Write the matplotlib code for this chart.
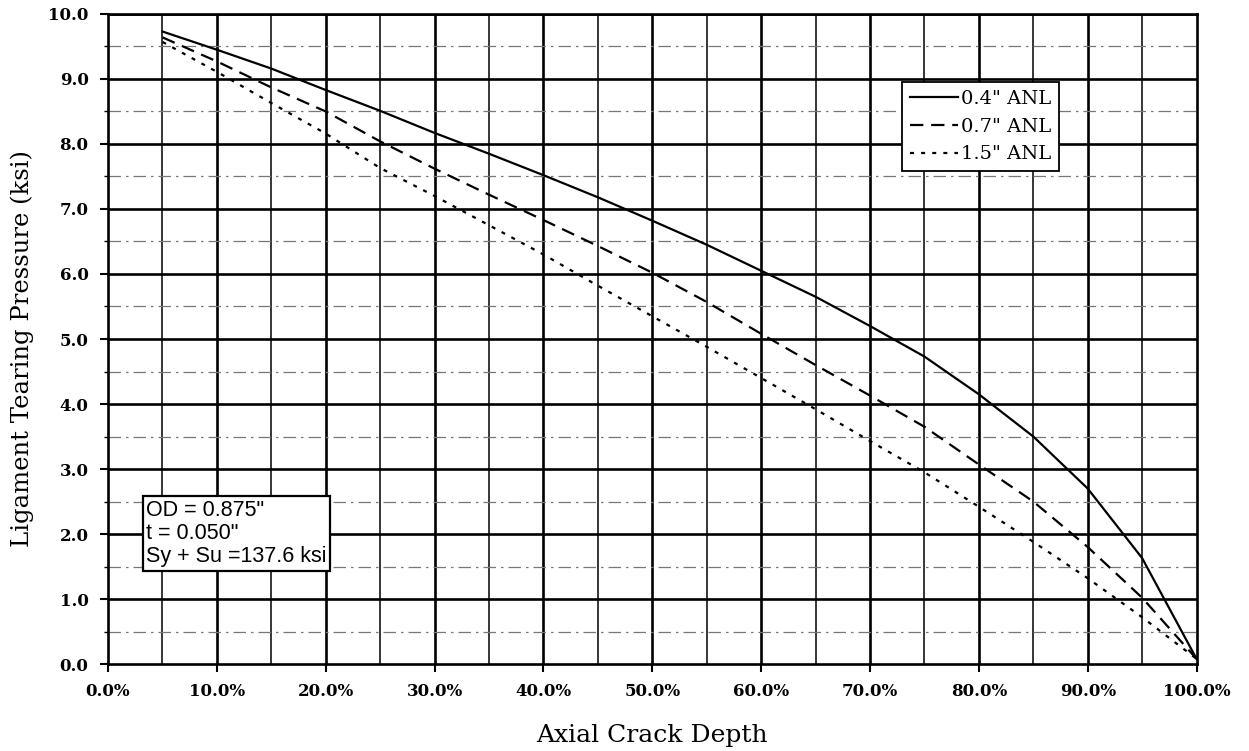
import numpy as np
import matplotlib.pyplot as plt
from matplotlib.ticker import MultipleLocator, PercentFormatter

# crack depth (%) and ligament tearing pressure (ksi)
depth = [5, 10, 15, 20, 25, 30, 35, 40, 45, 50, 55, 60, 65, 70, 75, 80, 85, 90, 95, 100]
p_04 = [9.73, 9.45, 9.16, 8.83, 8.51, 8.17, 7.85, 7.52, 7.18, 6.82, 6.45, 6.05,
        5.65, 5.20, 4.73, 4.15, 3.50, 2.70, 1.63, 0.08]
p_07 = [9.64, 9.27, 8.87, 8.50, 8.04, 7.62, 7.22, 6.83, 6.43, 6.02, 5.57, 5.08,
        4.60, 4.13, 3.65, 3.07, 2.50, 1.80, 1.02, 0.08]
p_15 = [9.57, 9.11, 8.63, 8.16, 7.63, 7.20, 6.75, 6.30, 5.82, 5.35, 4.88, 4.40,
        3.92, 3.43, 2.95, 2.42, 1.88, 1.32, 0.72, 0.08]
labels = ['0.4" ANL', '0.7" ANL', '1.5" ANL']
info = 'OD = 0.875"\nt = 0.050"\nSy + Su =137.6 ksi'

serif = ['DejaVu Serif']
fig = plt.figure(figsize=(12.49, 7.51), dpi=100)
ax = fig.add_axes([0.0865, 0.1158, 0.8715, 0.8656])

# grid
for x in np.arange(5, 100, 5):
    lw = 1.9 if x % 10 == 0 else 1.1
    ax.axvline(x, color='black', lw=lw, zorder=1)
for y in np.arange(1, 11, 1):
    ax.axhline(y, color='black', lw=1.9, zorder=1)
for y in np.arange(0.5, 10, 1):
    ax.axhline(y, color='#777777', lw=0.9, ls=(0, (10, 4, 2, 4)), zorder=1)

ax.plot(depth, p_04, color='black', lw=1.6, ls='-', label=labels[0], zorder=3)
ax.plot(depth, p_07, color='black', lw=1.6, ls=(0, (6, 3.5)), label=labels[1], zorder=3)
ax.plot(depth, p_15, color='black', lw=1.6, ls=(0, (1.8, 3.2)), label=labels[2], zorder=3)

ax.set_xlim(0, 100)
ax.set_ylim(0, 10)
ax.xaxis.set_major_locator(MultipleLocator(10))
ax.xaxis.set_major_formatter(PercentFormatter(decimals=1))
ax.yaxis.set_major_locator(MultipleLocator(1))
ax.yaxis.set_minor_locator(MultipleLocator(0.5))
ax.yaxis.set_major_formatter(lambda v, pos: f'{v:.1f}')
ax.tick_params(axis='both', which='major', direction='out', length=6, width=1.5,
               labelsize=12, pad=8)
ax.tick_params(axis='y', which='minor', direction='out', length=3, width=1)
for lab in ax.get_xticklabels() + ax.get_yticklabels():
    lab.set_family(serif)
    lab.set_fontweight('bold')
for s in ax.spines.values():
    s.set_linewidth(1.9)

ax.set_xlabel('Axial Crack Depth', family=serif, fontsize=18, labelpad=17)
ax.set_ylabel('Ligament Tearing Pressure (ksi)', family=serif, fontsize=17.5)
ax.yaxis.set_label_coords(-0.068, 0.485)

leg = ax.legend(loc='upper right', bbox_to_anchor=(0.874, 0.895), borderaxespad=0,
                fancybox=False, framealpha=1, edgecolor='black', handlelength=2.5,
                handletextpad=0.15, borderpad=0.4, labelspacing=0.5,
                prop={'family': serif, 'size': 14})
leg.get_frame().set_linewidth(1.3)

ax.text(0.035, 0.253, info, transform=ax.transAxes, ha='left', va='top',
        family=['Liberation Sans'], fontsize=15.5, linespacing=1.15, zorder=5,
        bbox=dict(boxstyle='square,pad=0.15', fc='white', ec='black', lw=1.6))

fig.savefig('out.png', dpi=100)
